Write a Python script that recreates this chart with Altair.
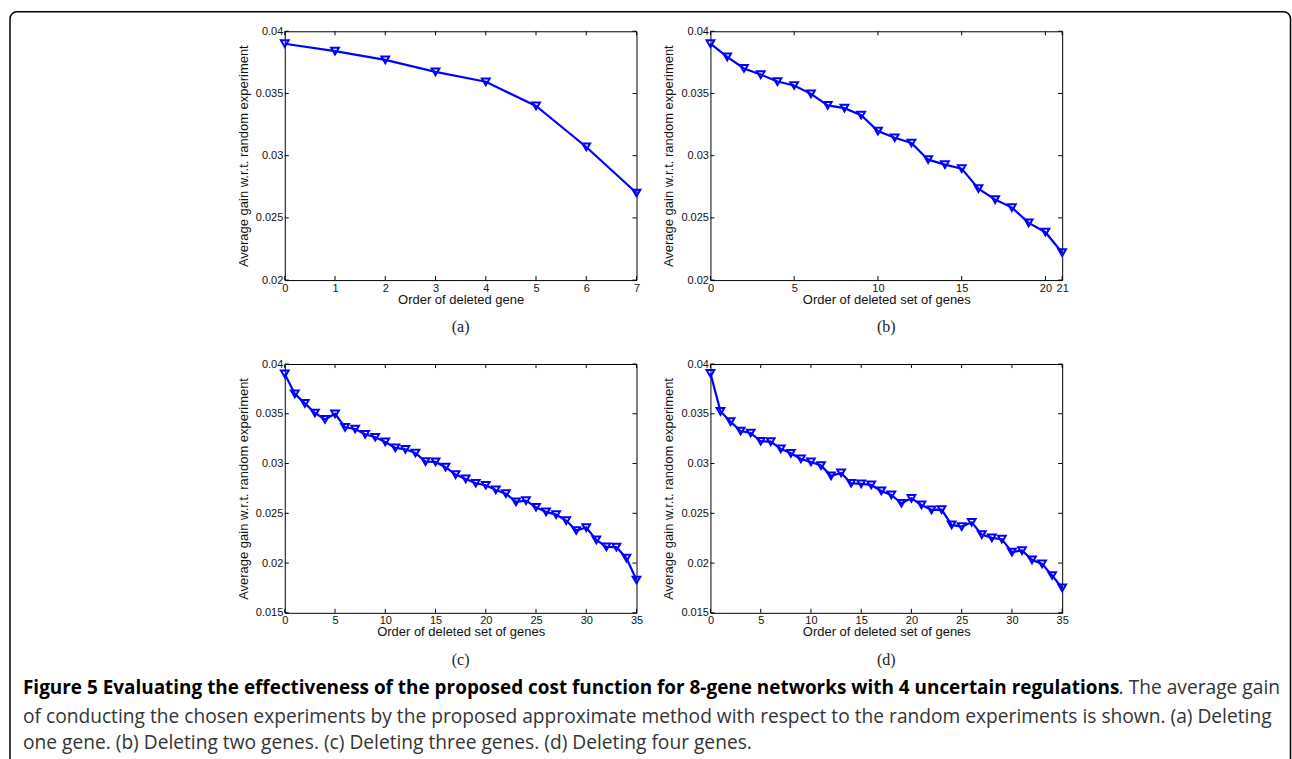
import altair as alt
import pandas as pd

# ---------------- data ----------------
a_x = [0, 1, 2, 3, 4, 5, 6, 7]
a_y = [0.0390, 0.0384, 0.0377, 0.03674, 0.03594, 0.0340, 0.0307, 0.0270]

b_x = list(range(22))
b_y = [0.0390, 0.03794, 0.03701, 0.03652, 0.03596, 0.03564, 0.03497, 0.03404,
       0.03382, 0.03326, 0.03198, 0.03144, 0.03102, 0.02968, 0.02928, 0.02896,
       0.02735, 0.02647, 0.02583, 0.0246, 0.02385, 0.0222]

c_x = list(range(36))
c_y = [0.0390, 0.0370, 0.03605, 0.03508, 0.03444, 0.0350, 0.03364, 0.03347,
       0.03294, 0.03264, 0.03217, 0.03157, 0.03143, 0.03106, 0.0302, 0.03016,
       0.02963, 0.02889, 0.02845, 0.02802, 0.02782, 0.02735, 0.02698, 0.02614,
       0.02628, 0.02561, 0.02514, 0.02487, 0.02427, 0.02327, 0.02357, 0.02233,
       0.02163, 0.0216, 0.0205, 0.0183]

d_x = list(range(36))
d_y = [0.03906, 0.03525, 0.03421, 0.03327, 0.03307, 0.03224, 0.0322, 0.03147,
       0.03103, 0.03046, 0.03016, 0.0298, 0.02876, 0.02906, 0.02802, 0.02795,
       0.02785, 0.02725, 0.02685, 0.02601, 0.02651, 0.02584, 0.02534, 0.02537,
       0.02383, 0.02367, 0.0241, 0.02286, 0.02253, 0.0224, 0.0211, 0.02126,
       0.02032, 0.01992, 0.01875, 0.0175]

x_ticks_a = [0, 1, 2, 3, 4, 5, 6, 7]
x_ticks_b = [0, 5, 10, 15, 20, 21]
x_ticks_cd = [0, 5, 10, 15, 20, 25, 30, 35]
y_ticks_ab = [0.02, 0.025, 0.03, 0.035, 0.04]
y_ticks_cd = [0.015, 0.02, 0.025, 0.03, 0.035, 0.04]

x_titles = ["Order of deleted gene", "Order of deleted set of genes",
            "Order of deleted set of genes", "Order of deleted set of genes"]
y_title = "Average gain w.r.t. random experiment"
sub_labels = ["(a)", "(b)", "(c)", "(d)"]

caption_bold = ("Figure 5 Evaluating the effectiveness of the proposed cost function "
                "for 8-gene networks with 4 uncertain regulations")
caption_l1_rest = ". The average gain"
caption_l2 = ("of conducting the chosen experiments by the proposed approximate method "
              "with respect to the random experiments is shown. (a) Deleting")
caption_l3 = "one gene. (b) Deleting two genes. (c) Deleting three genes. (d) Deleting four genes."

# ---------------- style ----------------
BLUE = "#0000ff"
AXFONT = "Liberation Sans"
CAPFONT = "Open Sans"
W, H = 352, 249
TICK = 4
one = pd.DataFrame({"k": [0]})


def panel(xs, ys, xmax, xticks, ymin, yticks, xtitle, sub, extra=()):
    df = pd.DataFrame({"x": xs, "y": ys})
    xenc = alt.X("x:Q", scale=alt.Scale(domain=[0, xmax], nice=False, zero=False),
                 axis=alt.Axis(values=xticks, title=xtitle, format="~g",
                               labelOverlap=False, labelFlush=False,
                               labelPadding=2, titlePadding=0))
    yenc = alt.Y("y:Q", scale=alt.Scale(domain=[ymin, 0.04], nice=False, zero=False),
                 axis=alt.Axis(values=yticks, title=y_title, format="~g",
                               labelOverlap=False, labelFlush=False,
                               labelPadding=2, titlePadding=5))
    line = alt.Chart(df).mark_line(color=BLUE, strokeWidth=2.2).encode(x=xenc, y=yenc)
    pts = alt.Chart(df).mark_point(shape="triangle-down", filled=False, color=BLUE,
                                   size=60, strokeWidth=2, opacity=1).encode(x=xenc, y=yenc)
    xt = pd.DataFrame({"x": xticks})
    yt = pd.DataFrame({"y": yticks})
    rule = dict(color="black", strokeWidth=1)
    xb = alt.Chart(xt).mark_rule(**rule).encode(x=xenc, y=alt.value(H), y2=alt.value(H - TICK))
    xtp = alt.Chart(xt).mark_rule(**rule).encode(x=xenc, y=alt.value(0), y2=alt.value(TICK))
    yl = alt.Chart(yt).mark_rule(**rule).encode(y=yenc, x=alt.value(0), x2=alt.value(TICK))
    yr = alt.Chart(yt).mark_rule(**rule).encode(y=yenc, x=alt.value(W - TICK), x2=alt.value(W))
    lab = alt.Chart(one).mark_text(text=sub, font="Liberation Serif", fontSize=16,
                                   color="#222", baseline="middle", align="center").encode(
        x=alt.value(W / 2), y=alt.value(H + 47))
    return alt.layer(line, pts, xb, xtp, yl, yr, lab, *extra).properties(width=W, height=H)


# outer rounded frame (relative to panel (a) origin)
frame = alt.Chart(one).mark_rect(fillOpacity=0, stroke="black", strokeWidth=1.5,
                                 cornerRadius=7).encode(
    x=alt.value(-275), x2=alt.value(1006.5), y=alt.value(-19.5), y2=alt.value(745))

# caption texts (relative to panel (c) origin)
cap1 = alt.Chart(one).mark_text(text=caption_bold, font=CAPFONT, fontSize=18.95, fontWeight="bold",
                                color="black", align="left", baseline="alphabetic").encode(
    x=alt.value(-262), y=alt.value(330))
cap1b = alt.Chart(one).mark_text(text=caption_l1_rest, font=CAPFONT, fontSize=19.2,
                                 color="#333", align="right", baseline="alphabetic").encode(
    x=alt.value(996), y=alt.value(330))
cap2 = alt.Chart(one).mark_text(text=caption_l2, font=CAPFONT, fontSize=19.2,
                                color="#333", align="left", baseline="alphabetic").encode(
    x=alt.value(-262), y=alt.value(359))
cap3 = alt.Chart(one).mark_text(text=caption_l3, font=CAPFONT, fontSize=19.2,
                                color="#333", align="left", baseline="alphabetic").encode(
    x=alt.value(-262), y=alt.value(385))

pa = panel(a_x, a_y, 7, x_ticks_a, 0.02, y_ticks_ab, x_titles[0], sub_labels[0], extra=(frame,))
pb = panel(b_x, b_y, 21, x_ticks_b, 0.02, y_ticks_ab, x_titles[1], sub_labels[1])
pc = panel(c_x, c_y, 35, x_ticks_cd, 0.015, y_ticks_cd, x_titles[2], sub_labels[2],
           extra=(cap1, cap1b, cap2, cap3))
pd_ = panel(d_x, d_y, 35, x_ticks_cd, 0.015, y_ticks_cd, x_titles[3], sub_labels[3])

chart = alt.concat(pa, pb, pc, pd_, columns=2, spacing={"row": 84, "column": 74},
                   bounds="flush").properties(
    padding={"left": 8, "top": 10, "right": 0, "bottom": 0},
    background="white",
).configure_view(stroke="black", strokeWidth=1).configure_axis(
    labelFont=AXFONT, labelFontSize=11, labelColor="#111",
    titleFont=AXFONT, titleFontSize=13, titleFontWeight="normal", titleColor="#111",
    domain=False, ticks=False, tickSize=0, grid=False,
)

chart.save("out.html", embed_options={"renderer": "svg", "actions": False})
